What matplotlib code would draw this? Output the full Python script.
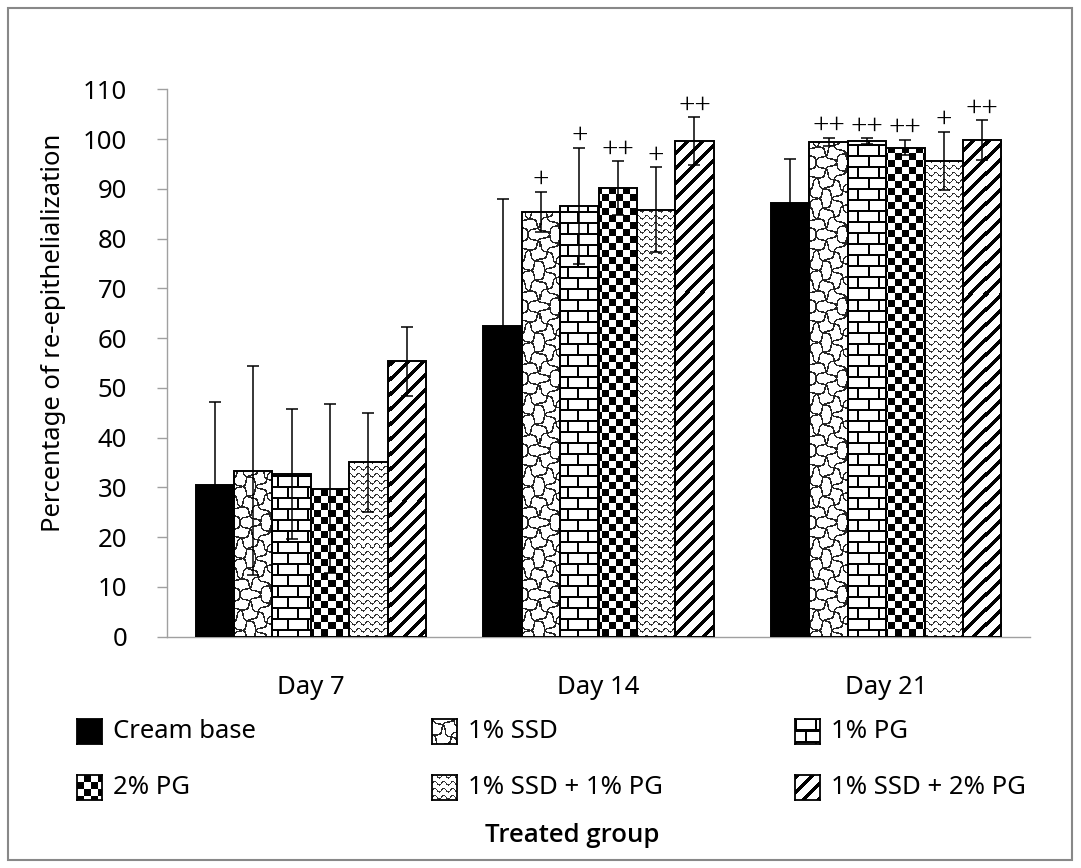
import numpy as np
import matplotlib
matplotlib.use('Agg')
import matplotlib.pyplot as plt
from matplotlib.patches import Rectangle

plt.rcParams['font.family'] = ['Noto Sans', 'DejaVu Sans']

days = ['Day 7', 'Day 14', 'Day 21']
groups = ['Cream base', '1% SSD', '1% PG', '2% PG', '1% SSD + 1% PG', '1% SSD + 2% PG']

# mean % re-epithelialization per day
cream_base = [30.5, 62.5, 87.2]
ssd_1 = [33.3, 85.4, 99.5]
pg_1 = [32.7, 86.6, 99.6]
pg_2 = [29.7, 90.1, 98.3]
ssd_pg_1 = [35.0, 85.8, 95.6]
ssd_pg_2 = [55.3, 99.6, 99.8]

# SD
sd_cream_base = [16.6, 25.4, 8.7]
sd_ssd_1 = [21.0, 4.0, 0.8]
sd_pg_1 = [13.0, 11.7, 0.6]
sd_pg_2 = [17.0, 5.4, 1.6]
sd_ssd_pg_1 = [10.0, 8.5, 5.9]
sd_ssd_pg_2 = [7.0, 4.8, 4.0]

# significance marks
sig_cream_base = ['', '', '']
sig_ssd_1 = ['', '+', '++']
sig_pg_1 = ['', '+', '++']
sig_pg_2 = ['', '++', '++']
sig_ssd_pg_1 = ['', '+', '+']
sig_ssd_pg_2 = ['', '++', '++']

means = [cream_base, ssd_1, pg_1, pg_2, ssd_pg_1, ssd_pg_2]
sds = [sd_cream_base, sd_ssd_1, sd_pg_1, sd_pg_2, sd_ssd_pg_1, sd_ssd_pg_2]
sigs = [sig_cream_base, sig_ssd_1, sig_pg_1, sig_pg_2, sig_ssd_pg_1, sig_ssd_pg_2]
kinds = ['solid', 'net', 'brick', 'checker', 'wave', 'stripe']


def make_pattern(kind, h, w):
    Y, X = np.mgrid[0:h, 0:w].astype(float)
    if kind == 'solid':
        return np.ones((h, w))
    if kind == 'net':
        # wavy crossing diagonals
        a = np.mod(X + Y + 3.0 * np.sin(2 * np.pi * (X - Y) / 24), 18) < 2.4
        b = np.mod(X - Y + 3.0 * np.sin(2 * np.pi * (X + Y) / 24), 18) < 2.4
        return (a | b) * 0.85
    if kind == 'brick':
        row = (Y // 11).astype(int)
        hor = np.mod(Y, 11) < 2
        ver = np.mod(X + (row % 2) * 10, 20) < 2
        return (hor | ver).astype(float)
    if kind == 'checker':
        return ((X // 7 + Y // 7) % 2).astype(float)
    if kind == 'wave':
        wv = np.mod(Y + 1.8 * np.sin(2 * np.pi * X / 9), 7) < 1.4
        return wv * 0.8
    if kind == 'stripe':
        return (np.mod(X + Y, 15) < 5).astype(float)


FW, FH = 1081, 868
fig = plt.figure(figsize=(FW / 100, FH / 100), dpi=100)

# axes box in pixels
ax_l, ax_r, ax_t, ax_b = 167, 1030, 89.3, 636.5
ax = fig.add_axes([ax_l / FW, 1 - ax_b / FH, (ax_r - ax_l) / FW, (ax_b - ax_t) / FH])
W = int(round(ax_r - ax_l))
H = int(round(ax_b - ax_t))

x = np.arange(len(days))
bw = 0.8 / len(groups)
for i in range(len(groups)):
    pos = x + (i - 2.5) * bw
    vals = means[i]
    if kinds[i] == 'solid':
        ax.bar(pos, vals, bw, color='black', lw=0, zorder=1)
    else:
        base = ax.bar(pos, vals, bw, color='white', lw=0, zorder=1)
        pat = make_pattern(kinds[i], H, W)
        for rect in base:
            im = ax.imshow(pat, cmap='gray_r', vmin=0, vmax=1, extent=(-0.5, 2.5, 0, 110),
                           aspect='auto', interpolation='nearest', zorder=2)
            im.set_clip_path(rect)
    ax.bar(pos, vals, bw, fill=False, edgecolor='black', lw=1.4, zorder=3)
    ax.errorbar(pos, vals, yerr=sds[i], fmt='none', ecolor='black', elinewidth=1.1,
                capsize=4.5, capthick=1.1, zorder=4)
    for xp, v, s, t in zip(pos, vals, sds[i], sigs[i]):
        if t:
            ax.annotate(t, (xp, v + s), xytext=(0, -1), textcoords='offset points',
                        ha='center', va='bottom', fontsize=21,
                        family=['Liberation Serif', 'DejaVu Serif'])

ax.set_xlim(-0.5, 2.5)
ax.set_ylim(0, 110)
ax.set_yticks(np.arange(0, 111, 10))
ax.set_xticks(x)
ax.set_xticklabels(days)
ax.tick_params(axis='y', direction='out', length=7.2, width=1, color='#a0a0a0',
               labelsize=18.5, pad=21.5)
ax.tick_params(axis='x', length=0, labelsize=18.5, pad=28)
for s in ['top', 'right']:
    ax.spines[s].set_visible(False)
for s in ['left', 'bottom']:
    ax.spines[s].set_color('#a0a0a0')
    ax.spines[s].set_linewidth(1)

ax.set_ylabel('Percentage of re-epithelialization', fontsize=18.5)
ax.yaxis.set_label_coords((66 - ax_l) / W, (ax_b - 333) / H)

# legend, 2 rows x 3 columns
sw_x = [77, 432, 795]
sw_y = [719, 775]
for i, name in enumerate(groups):
    r, c = divmod(i, 3)
    sx, sy = sw_x[c], sw_y[r]
    sax = fig.add_axes([sx / FW, 1 - (sy + 25) / FH, 25 / FW, 25 / FH])
    sax.imshow(make_pattern(kinds[i], 25, 25), cmap='gray_r', vmin=0, vmax=1,
               interpolation='nearest', aspect='auto')
    sax.set_xticks([])
    sax.set_yticks([])
    for sp in sax.spines.values():
        sp.set_color('black')
        sp.set_linewidth(1.3)
    fig.text((sx + 36) / FW, 1 - (sy + 12) / FH, name, fontsize=18.5, va='center', ha='left')

fig.text(572 / FW, 1 - 836 / FH, 'Treated group', fontsize=18.5, fontweight='semibold',
         family=['Open Sans', 'DejaVu Sans'], ha='center', va='center')

fig.patches.append(Rectangle((8 / FW, 8 / FH), (1072 - 8) / FW, (860 - 8) / FH,
                             transform=fig.transFigure, fill=False, edgecolor='#888888', lw=1.5))

fig.savefig('out.png', dpi=100)
